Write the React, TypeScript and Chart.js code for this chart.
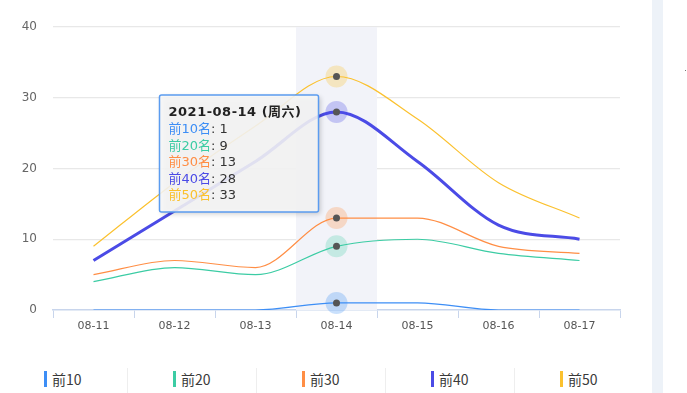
import React, { useEffect, useRef } from "react";
import { Chart, registerables } from "chart.js";

Chart.register(...registerables);

const categories = ["08-11", "08-12", "08-13", "08-14", "08-15", "08-16", "08-17"];
const top10 = [0, 0, 0, 1, 1, 0, 0];
const top20 = [4, 6, 5, 9, 10, 8, 7];
const top30 = [5, 7, 6, 13, 13, 9, 8];
const top40 = [7, 14, 21, 28, 21, 12, 10];
const top50 = [9, 18, 26, 33, 27, 18, 13];
const seriesNames = ["前10", "前20", "前30", "前40", "前50"];
const tooltipNames = ["前10名", "前20名", "前30名", "前40名", "前50名"];
const seriesColors = ["#3d8ef6", "#3ccca4", "#ff8e45", "#4b4be6", "#fbc12e"];
const haloColors = [
  "rgba(61,142,246,0.28)",
  "rgba(60,204,164,0.25)",
  "rgba(255,142,69,0.28)",
  "rgba(75,75,230,0.28)",
  "rgba(251,193,46,0.28)",
];
const lineWidths = [1.2, 1.2, 1.2, 3, 1.2];
const tooltipTitle = "2021-08-14 (周六)";
const activeIndex = 3;
const yTicks = [0, 10, 20, 30, 40];

const allSeries = [top10, top20, top30, top40, top50];

const bandPlugin = {
  id: "band",
  beforeDatasetsDraw(chart: any) {
    const x = chart.scales.x;
    const area = chart.chartArea;
    const cx = x.getPixelForValue(activeIndex);
    const w = x.getPixelForValue(1) - x.getPixelForValue(0);
    const ctx = chart.ctx;
    ctx.save();
    ctx.fillStyle = "#f2f3f9";
    ctx.fillRect(cx - w / 2, area.top, w, area.bottom - area.top);
    ctx.restore();
  },
};

const haloPlugin = {
  id: "halo",
  afterDatasetsDraw(chart: any) {
    const ctx = chart.ctx;
    ctx.save();
    chart.data.datasets.forEach((_: any, i: number) => {
      const el = chart.getDatasetMeta(i).data[activeIndex];
      if (!el) return;
      ctx.beginPath();
      ctx.arc(el.x, el.y, 11, 0, Math.PI * 2);
      ctx.fillStyle = haloColors[i];
      ctx.fill();
      ctx.beginPath();
      ctx.arc(el.x, el.y, 3.5, 0, Math.PI * 2);
      ctx.fillStyle = "#555";
      ctx.fill();
    });
    ctx.restore();
  },
};

const tooltipPlugin = {
  id: "fixedTooltip",
  afterDraw(chart: any) {
    const ctx = chart.ctx;
    const px = chart.scales.x.getPixelForValue(activeIndex);
    const left = px - 177;
    const right = px - 18;
    const top = 95;
    const bottom = 212;
    ctx.save();
    ctx.shadowColor = "rgba(0,0,0,0.22)";
    ctx.shadowBlur = 5;
    ctx.shadowOffsetX = 2;
    ctx.shadowOffsetY = 2;
    ctx.fillStyle = "rgba(247,247,247,0.88)";
    ctx.beginPath();
    ctx.roundRect(left, top, right - left, bottom - top, 2);
    ctx.fill();
    ctx.shadowColor = "transparent";
    ctx.strokeStyle = "#5b9cf0";
    ctx.lineWidth = 1.5;
    ctx.stroke();
    ctx.textBaseline = "middle";
    ctx.textAlign = "left";
    ctx.font = "bold 13px 'DejaVu Sans', 'Noto Sans CJK SC', sans-serif";
    (ctx as any).letterSpacing = "0.5px";
    ctx.fillStyle = "#222";
    const tx = left + 9;
    ctx.fillText(tooltipTitle, tx, 113);
    ctx.font = "13px 'DejaVu Sans', 'Noto Sans CJK SC', sans-serif";
    (ctx as any).letterSpacing = "0px";
    allSeries.forEach((s, i) => {
      const y = 130 + i * 16.5;
      ctx.fillStyle = seriesColors[i];
      ctx.fillText(tooltipNames[i], tx, y);
      const w = ctx.measureText(tooltipNames[i]).width;
      ctx.fillStyle = "#333";
      ctx.fillText(": " + s[activeIndex], tx + w, y);
    });
    ctx.restore();
  },
};

export default function App() {
  const ref = useRef<HTMLCanvasElement>(null);
  useEffect(() => {
    if (!ref.current) return;
    const chart = new Chart(ref.current, {
      type: "line",
      data: {
        labels: categories,
        datasets: allSeries.map((s, i) => ({
          label: seriesNames[i],
          data: s,
          borderColor: seriesColors[i],
          backgroundColor: seriesColors[i],
          borderWidth: lineWidths[i],
          pointRadius: 0,
          pointHoverRadius: 0,
          cubicInterpolationMode: "monotone" as const,
          fill: false,
        })),
      },
      options: {
        responsive: false,
        animation: false,
        events: [],
        layout: { padding: { top: 27, right: 30, left: 0, bottom: 0 } },
        plugins: { legend: { display: false }, tooltip: { enabled: false } },
        scales: {
          x: {
            offset: true,
            grid: {
              offset: true,
              drawOnChartArea: false,
              drawTicks: true,
              tickLength: 8,
              color: "#c8d5ec",
            },
            border: { display: true, color: "#c8d5ec", width: 1.5 },
            ticks: {
              padding: 2,
              color: "#555",
              font: { size: 11, family: "'DejaVu Sans', sans-serif" },
            },
            afterFit(scale: any) {
              scale.height = 35;
            },
          },
          y: {
            min: 0,
            max: 40,
            afterBuildTicks(scale: any) {
              scale.ticks = yTicks.map((v) => ({ value: v }));
            },
            grid: {
              drawTicks: false,
              color: (c: any) => (c.tick && c.tick.value === 0 ? "rgba(0,0,0,0)" : "#e8e8e8"),
              lineWidth: 1.2,
            },
            border: { display: false },
            ticks: {
              padding: 16,
              color: "#666",
              font: { size: 12, family: "'DejaVu Sans', sans-serif" },
            },
            afterFit(scale: any) {
              scale.width = 53;
            },
          },
        },
      },
      plugins: [bandPlugin, haloPlugin, tooltipPlugin],
    });
    return () => chart.destroy();
  }, []);

  return (
    <div
      style={{
        position: "absolute",
        left: 0,
        top: 0,
        width: 687,
        height: 393,
        background: "#fff",
        overflow: "hidden",
      }}
    >
      <canvas
        ref={ref}
        width={650}
        height={345}
        style={{ position: "absolute", left: 0, top: 0, width: 650, height: 345 }}
      />
      {seriesNames.map((n, i) => (
        <div
          key={n}
          style={{
            position: "absolute",
            left: 44 + 129 * i,
            top: 370,
            height: 18,
            display: "flex",
            alignItems: "center",
            fontFamily: "'Noto Sans CJK SC', sans-serif",
            fontSize: 14,
            color: "#3a3a3a",
            whiteSpace: "nowrap",
          }}
        >
          <span
            style={{
              display: "inline-block",
              width: 3,
              height: 16,
              background: seriesColors[i],
              marginRight: 5,
            }}
          />
          <span>{n}</span>
        </div>
      ))}
      {[0, 1, 2, 3].map((k) => (
        <div
          key={k}
          style={{
            position: "absolute",
            left: 127 + 129 * k,
            top: 368,
            width: 1,
            height: 25,
            background: "#eeeeee",
          }}
        />
      ))}
      <div
        style={{
          position: "absolute",
          left: 652,
          top: 0,
          width: 11,
          height: 393,
          background: "#edf2f8",
        }}
      />
      <div
        style={{
          position: "absolute",
          left: 685,
          top: 70,
          width: 1,
          height: 1,
          background: "#777",
        }}
      />
    </div>
  );
}
